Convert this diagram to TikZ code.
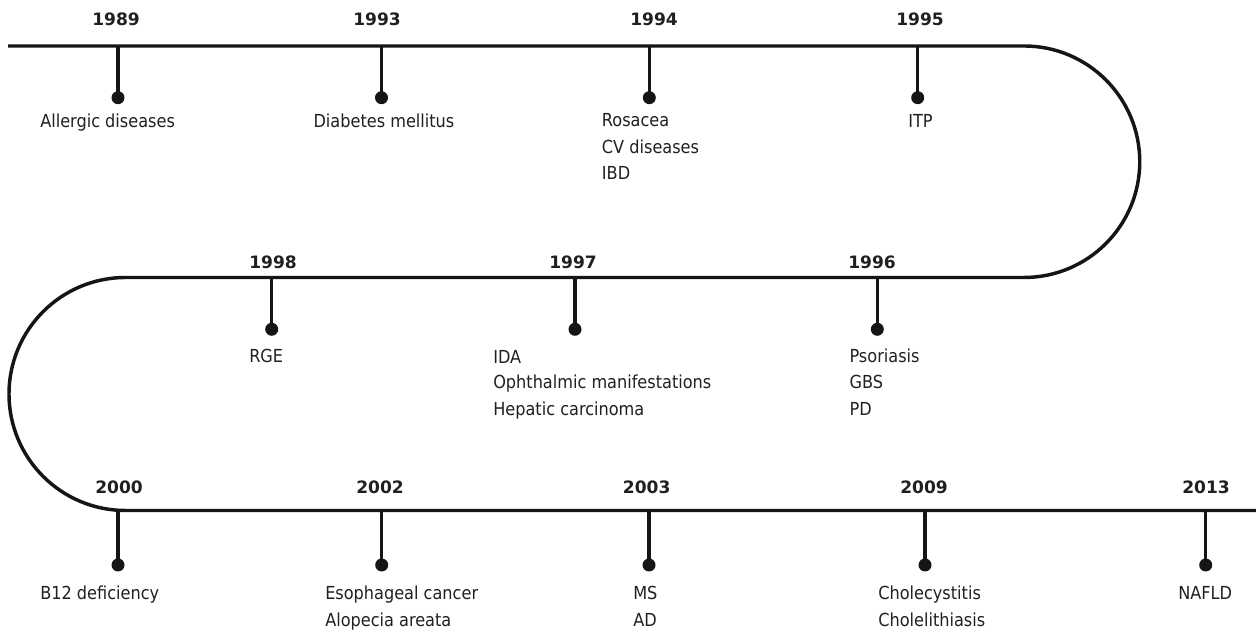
\documentclass[tikz,border=0pt]{standalone}
\usepackage{fontspec}
\setmainfont{DejaVu Sans Condensed}
\newfontfamily\yearfont{DejaVu Sans}
\definecolor{ink}{HTML}{231F20}
\definecolor{linec}{HTML}{151515}
\begin{document}
\begin{tikzpicture}[x=0.75pt,y=0.75pt,
  tl/.style={draw=linec,line width=2.6pt},
  stem/.style={draw=linec,line width=2.4pt},
  dot/.style={circle,fill=linec,inner sep=0pt,minimum size=9.75pt},
  yr/.style={font=\yearfont\fontsize{12.8}{19}\selectfont\bfseries,text=ink,inner sep=0pt,anchor=base},
  lab/.style={font=\fontsize{13.45}{19}\selectfont,text=ink,inner sep=0pt,anchor=base west}]
\fill[white] (0,0) rectangle (1256,630);
\useasboundingbox (0,0) rectangle (1256,630);
% timeline
\draw[tl] (8,584) -- (1024,584) arc[start angle=90,end angle=-90,radius=115.75]
  -- (125.5,352.5) arc[start angle=90,end angle=270,radius=116.5] -- (1256,119.5);
% row 1
\coordinate (t1989) at (118,584); \node[dot] (d1989) at (118,630-97.7) {};
\coordinate (t1993) at (381.5,584); \node[dot] (d1993) at (381.5,630-97.7) {};
\coordinate (t1994) at (649.3,584); \node[dot] (d1994) at (649.3,630-97.7) {};
\coordinate (t1995) at (917.7,584); \node[dot] (d1995) at (917.7,630-97.7) {};
% row 2
\coordinate (t1998) at (271.7,352.5); \node[dot] (d1998) at (271.7,630-329.3) {};
\coordinate (t1997) at (575,352.5); \node[dot] (d1997) at (575,630-329.3) {};
\coordinate (t1996) at (877.3,352.5); \node[dot] (d1996) at (877.3,630-329.3) {};
% row 3
\coordinate (t2000) at (118,119.5); \node[dot] (d2000) at (118,630-565) {};
\coordinate (t2002) at (381.7,119.5); \node[dot] (d2002) at (381.7,630-565) {};
\coordinate (t2003) at (649,119.5); \node[dot] (d2003) at (649,630-565) {};
\coordinate (t2009) at (925,119.5); \node[dot] (d2009) at (925,630-565) {};
\coordinate (t2013) at (1205.7,119.5); \node[dot] (d2013) at (1205.7,630-565) {};
\foreach \y in {1989,1993,1994,1995,1998,1997,1996,2000,2002,2003,2009,2013}
  \draw[stem] (t\y) -- (d\y.center);
% years
\node[yr] (y1989) at (116,630-26) {1989};
\node[yr] (y1993) at (377,630-26) {1993};
\node[yr] (y1994) at (654,630-25.5) {1994};
\node[yr] (y1995) at (920,630-25.5) {1995};
\node[yr] (y1998) at (273,630-269) {1998};
\node[yr] (y1997) at (573,630-269) {1997};
\node[yr] (y1996) at (872,630-268.5) {1996};
\node[yr] (y2000) at (119,630-493.3) {2000};
\node[yr] (y2002) at (380,630-493.3) {2002};
\node[yr] (y2003) at (646.7,630-493.3) {2003};
\node[yr] (y2009) at (924,630-493.3) {2009};
\node[yr] (y2013) at (1206,630-493.3) {2013};
% labels row 1
\node[lab] (l1989) at (40,630-127.5) {Allergic diseases};
\node[lab] (l1993) at (313.3,630-127.5) {Diabetes mellitus};
\node[lab] (l1994a) at (601.7,630-126.7) {Rosacea};
\node[lab] (l1994b) at (601.7,630-153.3) {CV diseases};
\node[lab] (l1994c) at (601.7,630-180) {IBD};
\node[lab] (l1995) at (908,630-127.5) {ITP};
% labels row 2
\node[lab] (l1998) at (249,630-363) {RGE};
\node[lab] (l1997a) at (493,630-363.3) {IDA};
\node[lab] (l1997b) at (493,630-389) {Ophthalmic manifestations};
\node[lab] (l1997c) at (493,630-415.7) {Hepatic carcinoma};
\node[lab] (l1996a) at (849.3,630-362.3) {Psoriasis};
\node[lab] (l1996b) at (849.3,630-389) {GBS};
\node[lab] (l1996c) at (849.3,630-415.7) {PD};
% labels row 3
\node[lab] (l2000) at (40,630-600) {B12 deficiency};
\node[lab] (l2002a) at (325,630-600) {Esophageal cancer};
\node[lab] (l2002b) at (325,630-626.7) {Alopecia areata};
\node[lab] (l2003a) at (633,630-600) {MS};
\node[lab] (l2003b) at (633,630-626.7) {AD};
\node[lab] (l2009a) at (878,630-600) {Cholecystitis};
\node[lab] (l2009b) at (878,630-626.7) {Cholelithiasis};
\node[lab] (l2013) at (1178,630-600) {NAFLD};
\end{tikzpicture}
\end{document}
